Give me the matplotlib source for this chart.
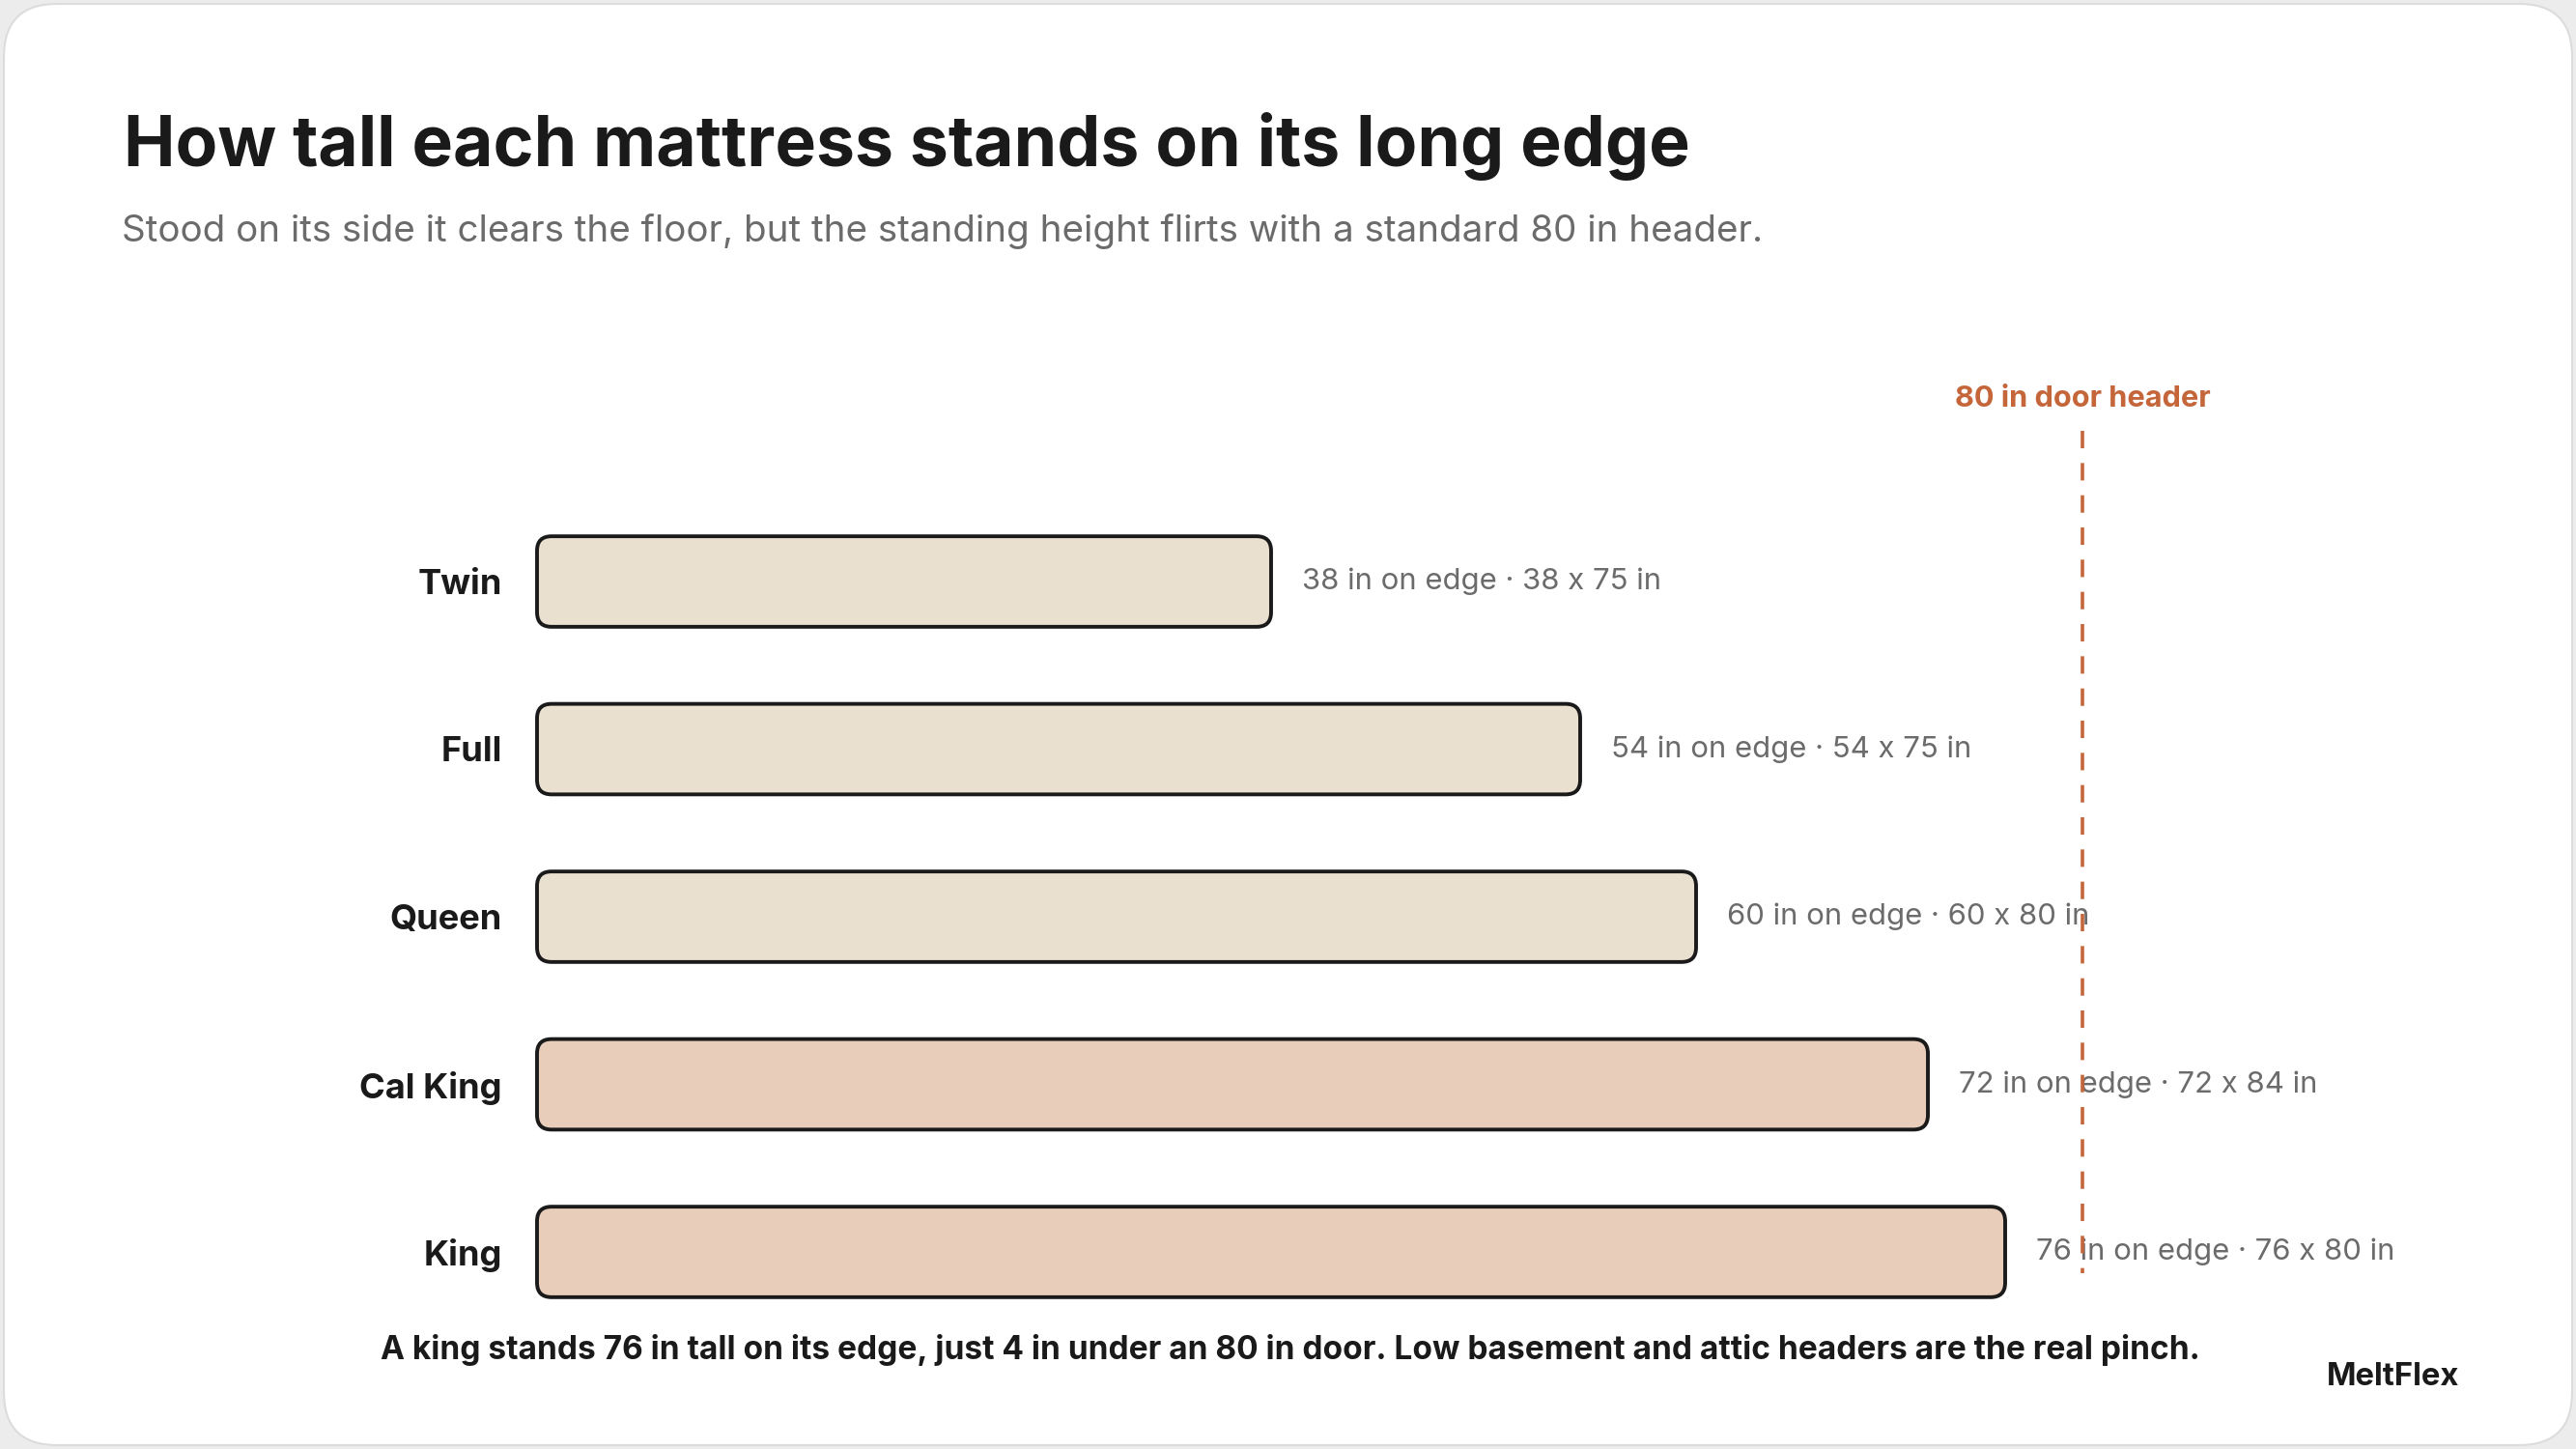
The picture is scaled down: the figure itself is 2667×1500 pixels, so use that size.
import matplotlib.pyplot as plt
from matplotlib.patches import FancyBboxPatch

# mattress data (inches)
sizes = ["Twin", "Full", "Queen", "Cal King", "King"]
edge_height = [38, 54, 60, 72, 76]
long_side = [75, 75, 80, 84, 80]
door_header = 80

bar_colors = ["#EAE0D0", "#EAE0D0", "#EAE0D0", "#E8CDBA", "#E8CDBA"]
ink = "#1a1a1a"
grey = "#6b6b6b"
rust = "#C4663A"

title = "How tall each mattress stands on its long edge"
subtitle = ("Stood on its side it clears the floor, but the standing height "
            "flirts with a standard 80 in header.")
footer = ("A king stands 76 in tall on its edge, just 4 in under an 80 in door. "
          "Low basement and attic headers are the real pinch.")
brand = "MeltFlex"

plt.rcParams['font.family'] = ['Inter', 'DejaVu Sans']

W, H = 2667, 1500
fig = plt.figure(figsize=(W / 100, H / 100), dpi=100)
fig.patch.set_facecolor("#ececec")
renderer = fig.canvas.get_renderer()


def fit(txt, width_px):
    w = txt.get_window_extent(renderer).width
    txt.set_fontsize(txt.get_fontsize() * width_px / w)
    return txt.get_fontsize()


# background card, pixel coords
bg = fig.add_axes([0, 0, 1, 1], zorder=-1)
bg.set_xlim(0, W)
bg.set_ylim(H, 0)
bg.axis("off")
bg.add_patch(FancyBboxPatch((4, 4), W - 8, H - 8,
                            boxstyle="round,pad=0,rounding_size=55",
                            facecolor="white", edgecolor="#dcdcdc", lw=1.5))

t = bg.text(128, 172, title, fontsize=50, fontweight="bold", color=ink,
            va="baseline", ha="left")
fit(t, 1621)
t = bg.text(126, 250, subtitle, fontsize=24, color=grey,
            va="baseline", ha="left")
fit(t, 1699)
t = bg.text(1336, 1398, footer, fontsize=20, fontweight="bold", color=ink,
            va="center", ha="center")
fit(t, 1886)
t = bg.text(2546, 1425, brand, fontsize=20, fontweight="bold", color=ink,
            va="center", ha="right")
fit(t, 138)

# main chart
ax = fig.add_axes([556 / W, (H - 1330) / H, 2000 / W, (1330 - 428.5) / H])
ax.patch.set_alpha(0)
ax.set_xlim(0, 100)
ax.set_ylim(4 + (1330 - 1296) / 173.5, -1)
for s in ax.spines.values():
    s.set_visible(False)
ax.set_xticks([])

ypos = list(range(len(sizes)))
bars = ax.barh(ypos, edge_height, height=0.54, alpha=0)
aspect = 20 / 173.5
for b, c in zip(bars, bar_colors):
    ax.add_patch(FancyBboxPatch((b.get_x(), b.get_y()), b.get_width(),
                                b.get_height(),
                                boxstyle="round,pad=0,rounding_size=0.75",
                                mutation_aspect=aspect, clip_on=False,
                                facecolor=c, edgecolor=ink, lw=2.8, zorder=2))

ax.set_yticks(ypos, sizes)
ax.tick_params(axis="y", length=0, pad=26)
for lab in ax.get_yticklabels():
    lab.set_fontweight("bold")
    lab.set_color(ink)
    lab.set_fontsize(20)
cal = ax.get_yticklabels()[3]
fs = fit(cal, 148)
for lab in ax.get_yticklabels():
    lab.set_fontsize(fs)

labels = []
for y, h, l in zip(ypos, edge_height, long_side):
    labels.append(ax.annotate(f"{h} in on edge · {h} x {l} in", (h, y),
                              xytext=(23, 0), textcoords="offset points",
                              va="center", ha="left", color=grey,
                              fontsize=18, zorder=3))
fs = fit(labels[0], 371)
for lab in labels:
    lab.set_fontsize(fs)

ax.plot([door_header, door_header], [-0.899, 4.127], color=rust, lw=2.6,
        linestyle=(0, (13 / 2.6, 11 / 2.6)), zorder=4, clip_on=False,
        solid_capstyle="butt")
t = ax.text(door_header, -1.09, "80 in door header", color=rust,
            fontweight="bold", fontsize=16, ha="center", va="center",
            clip_on=False)
fit(t, 265)

fig.savefig("out.png", dpi=100, facecolor=fig.get_facecolor())
